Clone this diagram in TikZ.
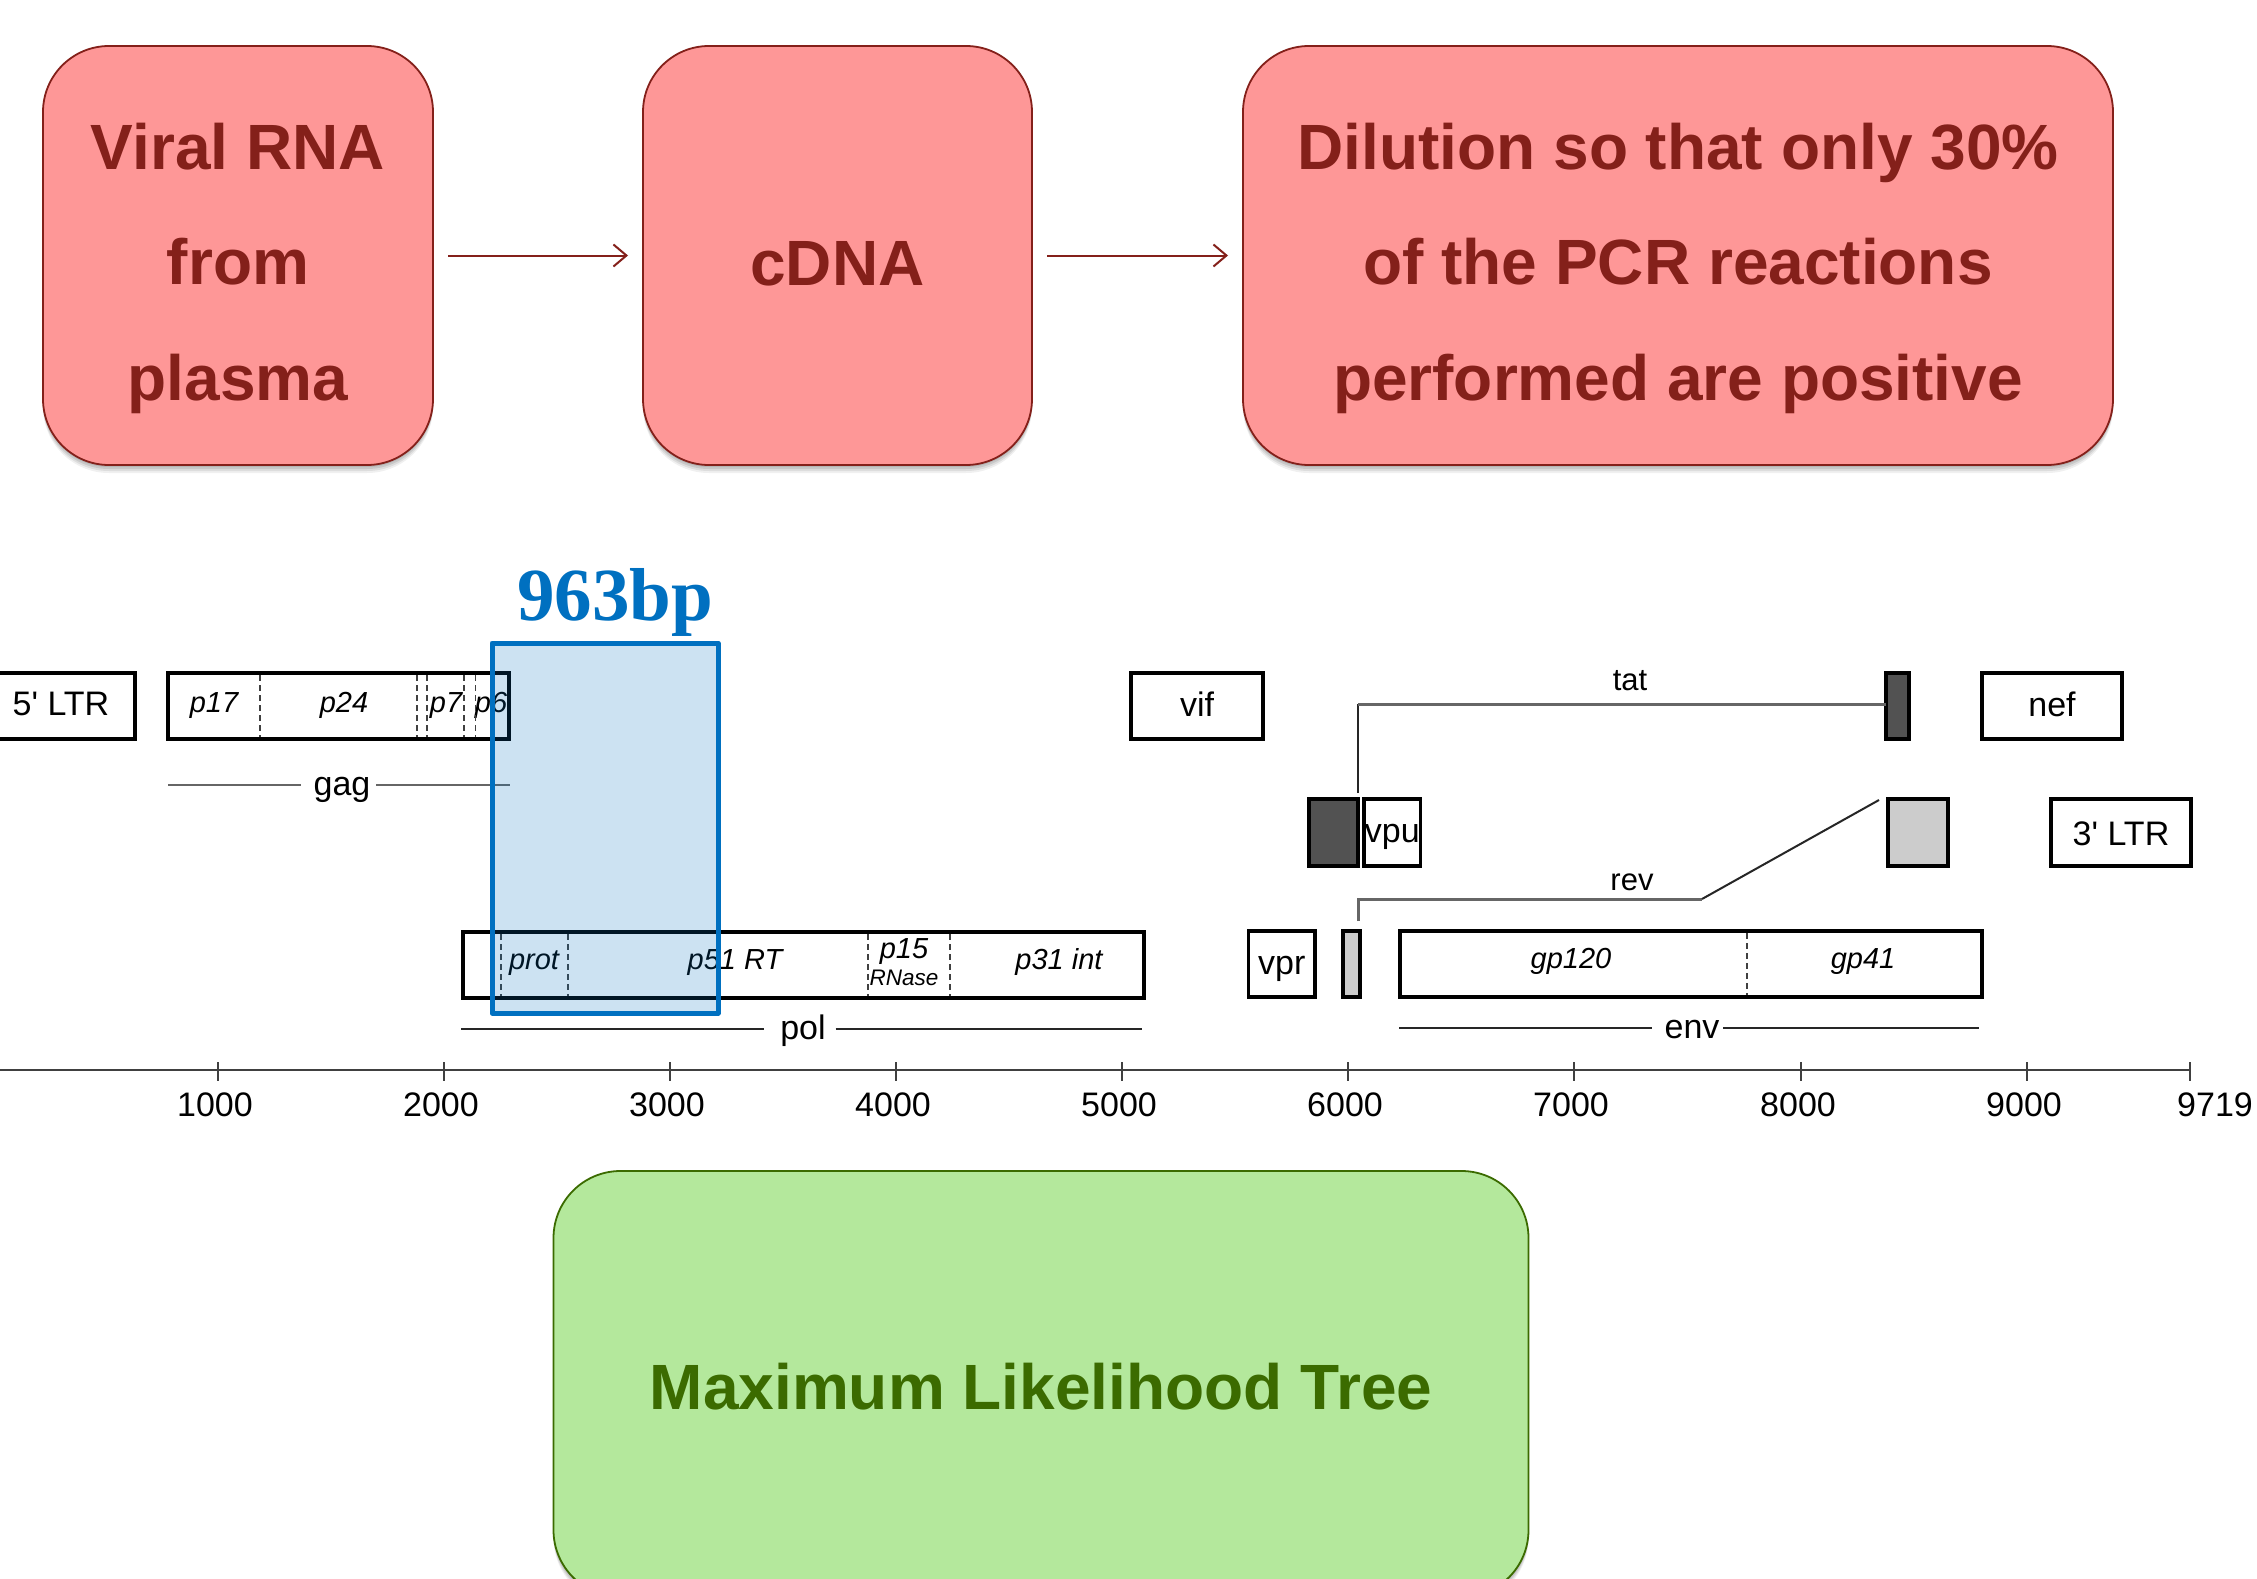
\documentclass[tikz,border=0pt]{standalone}
\usepackage{fontspec}
\setmainfont{Liberation Sans}
\newfontfamily\plainsans{Liberation Sans}
\newfontfamily\timesfam{Liberation Serif}
\usetikzlibrary{arrows.meta}
\definecolor{redfill}{HTML}{FE9797}
\definecolor{redline}{HTML}{84201A}
\definecolor{greenfill}{HTML}{B4E89C}
\definecolor{greenline}{HTML}{3B6B00}
\definecolor{bluemark}{HTML}{0070C0}
\tikzset{
  softshadow/.style={
    preaction={draw=none,fill=black,fill opacity=.09,transform canvas={yshift=-2pt}},
    preaction={draw=none,fill=black,fill opacity=.09,transform canvas={yshift=-4pt}},
    preaction={draw=none,fill=black,fill opacity=.08,transform canvas={yshift=-6pt}},
    preaction={draw=none,fill=black,fill opacity=.06,transform canvas={yshift=-8pt}}},
  flowbox/.style={rectangle,rounded corners=66pt,draw=redline,fill=redfill,line width=1.8pt,
    text=redline,font=\fontsize{64}{115.2}\selectfont\bfseries,align=center,outer sep=0pt,inner sep=0pt,
    minimum height=419pt,softshadow},
  treebox/.style={flowbox,draw=greenline,fill=greenfill,text=greenline,rounded corners=67pt},
  flowarrow/.style={draw=redline,line width=2pt,shorten >=15pt,shorten <=15pt,
    -{Straight Barb[length=13pt,width=22pt,line width=2pt]}},
  genebox/.style={rectangle,draw=black,line width=3.4pt,outer sep=0pt,inner sep=0pt,
    text height=20pt,text depth=0pt,font=\fontsize{34}{36}\selectfont\plainsans},
  geneitalic/.style={inner sep=0pt,text height=20pt,text depth=0pt,font=\fontsize{29}{30}\selectfont\itshape},
  genename/.style={inner ysep=8pt,inner xsep=0pt,minimum width=73pt,text height=20pt,text depth=0pt,font=\fontsize{34}{36}\selectfont},
  genedash/.style={draw=black!75,line width=1.8pt,dash pattern=on 6pt off 4pt},
  spanline/.style={draw=black!60,line width=2.4pt},
  axisline/.style={draw=black!75,line width=2pt},
  ticklabel/.style={inner sep=0pt,font=\fontsize{34}{36}\selectfont},
}
\newcommand{\gbox}[7][]{%
  \pgfmathsetmacro{\gcx}{(#3+#5)/2}%
  \pgfmathsetmacro{\gcy}{(#4+#6)/2}%
  \pgfmathsetmacro{\gw}{#5-(#3)}%
  \pgfmathsetmacro{\gh}{#6-(#4)}%
  \node[genebox,minimum width=\gw pt,minimum height=\gh pt,#1] (#2) at (\gcx,\gcy) {#7};}
\begin{document}
\begin{tikzpicture}[x=1pt,y=-1pt]
\path[use as bounding box,clip] (0,0) rectangle (2257,1579);
\fill[white] (0,0) rectangle (2257,1579);

% flow boxes
\node[flowbox,minimum width=390pt] (rna) at (238,255.5) {\rule{0pt}{72pt}Viral RNA\\from\\plasma};
\node[flowbox,minimum width=389pt] (cdna) at (837.5,255.5) {\rule{0pt}{61pt}cDNA};
\node[flowbox,minimum width=870pt] (dil) at (1678,255.5) {\rule{0pt}{72pt}Dilution so that only 30\%\\of the PCR reactions\\performed are positive};
\draw[flowarrow] (rna) -- (cdna);
\draw[flowarrow] (cdna) -- (dil);
\node[treebox,minimum width=975pt,minimum height=426pt] (tree) at (1041,1384) {\rule{0pt}{52pt}Maximum Likelihood Tree};

% genome: first row
\gbox{ltrfive}{-20}{673}{135}{739}{}
\node[inner sep=0pt,font=\fontsize{34}{36}\selectfont\plainsans] (ltrfivelabel) at (61,704) {5' LTR};
\gbox{gagbox}{168}{673}{509}{739}{}
\node[geneitalic] (p17) at (214,702) {p17};
\node[geneitalic] (p24) at (344,702) {p24};
\node[geneitalic] (p7) at (446,702) {p7};
\node[geneitalic] (p6) at (491,702) {p6};
\foreach \dx in {260,417,427,464,475.5} \draw[genedash] (\dx,675) -- (\dx,737);
\gbox{vif}{1131}{673}{1263}{739}{vif}
\gbox[fill=black!68]{tatbox}{1886}{673}{1909}{739}{}
\gbox{nef}{1982}{673}{2122}{739}{nef}

% genome: second row
\gbox[fill=black!68]{darkbox}{1309}{799}{1358}{866}{}
\gbox{vpu}{1364}{799}{1420.5}{866}{vpu}
\gbox[fill=black!20]{greybox}{1888}{799}{1948}{866}{}
\gbox[text height=26pt]{ltrthree}{2051}{799}{2191}{866}{3' LTR}

% genome: third row
\gbox{polbox}{463}{932}{1144}{998}{}
\foreach \dx in {501,568,868,950} \draw[genedash] (\dx,934) -- (\dx,996);
\node[geneitalic] (prot) at (534,959) {prot};
\node[geneitalic] (p51) at (735,959) {p51 RT};
\node[geneitalic] (p15) at (904,948) {p15};
\node[geneitalic,text height=16pt,font=\fontsize{22.5}{24}\selectfont\itshape] (rnase) at (904,977) {RNase};
\node[geneitalic] (p31) at (1059,959) {p31 int};
\gbox{vpr}{1248.5}{931}{1315}{997}{vpr}
\gbox[fill=black!20]{smallgrey}{1343}{931}{1360}{997}{}
\gbox{envbox}{1400}{931}{1982}{997}{}
\draw[genedash] (1747,933) -- (1747,995);
\node[geneitalic] (gp120) at (1571,958) {gp120};
\node[geneitalic] (gp41) at (1863,958) {gp41};

% span lines with names
\coordinate (gagL) at (168,785);
\coordinate (gagR) at (510,785);
\node[genename,minimum width=75pt] (gag) at (338.5,785) {\hspace*{7pt}gag};
\draw[spanline] (gagL) -- (gag.west |- gagL);
\draw[spanline] (gag.east |- gagR) -- (gagR);
\coordinate (polL) at (461,1029);
\coordinate (polR) at (1142,1029);
\node[genename,minimum width=71pt] (pol) at (800,1029) {\hspace*{6pt}pol};
\draw[spanline,draw=black!85] (polL) -- (pol.west |- polL);
\draw[spanline,draw=black!85] (pol.east |- polR) -- (polR);
\coordinate (envL) at (1399,1028);
\coordinate (envR) at (1979,1028);
\node[genename,minimum width=71pt] (env) at (1687.5,1028) {\hspace*{9pt}env};
\draw[spanline,draw=black!85] (envL) -- (env.west |- envL);
\draw[spanline,draw=black!85] (env.east |- envR) -- (envR);

% tat and rev splices
\coordinate (tatfoot) at (1358,793);
\coordinate (tatbend) at (1358,704);
\draw[draw=black!85,line width=2pt] (tatfoot) -- (tatbend);
\draw[spanline,line width=3pt] (tatbend) -- (tatbox.west |- tatbend);
\node[inner sep=0pt,font=\fontsize{31}{33}\selectfont] (tat) at (1630,681) {tat};
\coordinate (revfoot) at (1358,921);
\coordinate (revbend) at (1358,899);
\coordinate (revknee) at (1702,899);
\coordinate (revtop) at (1879,800);
\draw[spanline,line width=3pt] (revfoot) -- (revbend) -- (revknee);
\draw[draw=black!85,line width=2pt] (revknee) -- (revtop);
\node[inner sep=0pt,font=\fontsize{31}{33}\selectfont] (rev) at (1632,882) {rev};

% axis
\coordinate (axisL) at (0,1069.5);
\coordinate (axisR) at (2190,1069.5);
\draw[axisline] (axisL) -- (axisR);
\foreach \tx in {218,444,670,896,1122,1348,1574,1801,2027,2190}{
  \draw[axisline] (\tx,1062) -- (\tx,1081);
}
\foreach \tx/\tl in {215/1000,441/2000,667/3000,893/4000,1119/5000,1345/6000,1571/7000,1798/8000,2024/9000,2215/9719}{
  \node[ticklabel] (tick\tl) at (\tx,1105) {\tl};
}

% highlighted region
\draw[draw=bluemark,fill=bluemark,fill opacity=.2,line width=5pt,line join=round] (492,643) rectangle (718,1013);
\node[inner sep=0pt,text=bluemark,font=\fontsize{75}{80}\selectfont\timesfam\bfseries,anchor=base] (bp) at (615,620) {963bp};
\end{tikzpicture}
\end{document}
